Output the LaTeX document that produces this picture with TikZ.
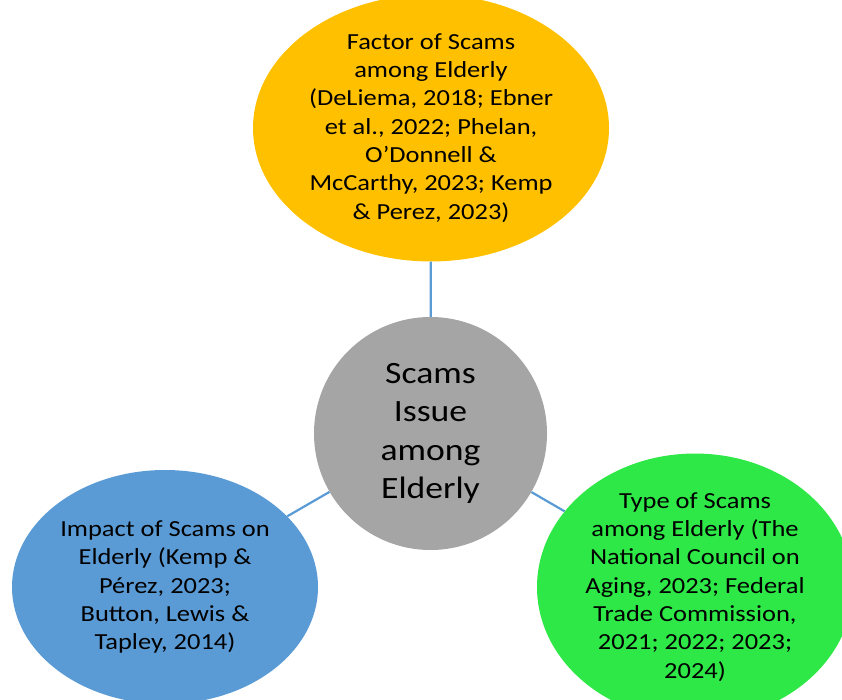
\documentclass[tikz,border=0pt]{standalone}
\usepackage{fontspec}
\setmainfont{Carlito}[FakeStretch=1.15]
\usetikzlibrary{shapes.geometric}
\definecolor{factorgold}{HTML}{FFC000}
\definecolor{hubgray}{HTML}{A5A5A5}
\definecolor{impactblue}{HTML}{5B9BD5}
\definecolor{typegreen}{HTML}{2EE847}
\definecolor{linkblue}{HTML}{5B9BD5}
\tikzset{
  bubble/.style={ellipse, inner sep=0pt, align=center, text=black,
    font=\fontsize{23}{28.3}\selectfont},
  hub/.style={circle, inner sep=0pt, align=center, text=black, fill=hubgray,
    minimum size=233pt, font=\fontsize{31}{38.3}\selectfont},
  link/.style={draw=linkblue, line width=2.2pt}
}
\begin{document}
\begin{tikzpicture}[x=1pt,y=-1pt]
  \useasboundingbox (0,0) rectangle (842,700);
  \begin{scope}
  \clip (0,0) rectangle (842,700);
  \node[hub] (hub) at (430.5,433.5) {Scams\\Issue\\among\\Elderly};
  \node[bubble, fill=factorgold, minimum width=356pt, minimum height=230pt]
    (factor) at (431,128) {Factor of Scams\\among Elderly\\(DeLiema, 2018; Ebner\\et al., 2022; Phelan,\\O’Donnell \&\\McCarthy, 2023; Kemp\\\& Perez, 2023)};
  \node[bubble, fill=impactblue, minimum width=306pt, minimum height=234pt]
    (impact) at (165,587) {Impact of Scams on\\Elderly (Kemp \&\\Pérez, 2023;\\Button, Lewis \&\\Tapley, 2014)};
  \node[bubble, fill=typegreen, minimum width=316pt, minimum height=234pt]
    (type) at (695,587) {Type of Scams\\among Elderly (The\\National Council on\\Aging, 2023; Federal\\Trade Commission,\\2021; 2022; 2023;\\2024)};
  \draw[link] (hub) -- (factor);
  \draw[link] (hub) -- (impact);
  \draw[link] (hub) -- (type);
  \end{scope}
\end{tikzpicture}
\end{document}
